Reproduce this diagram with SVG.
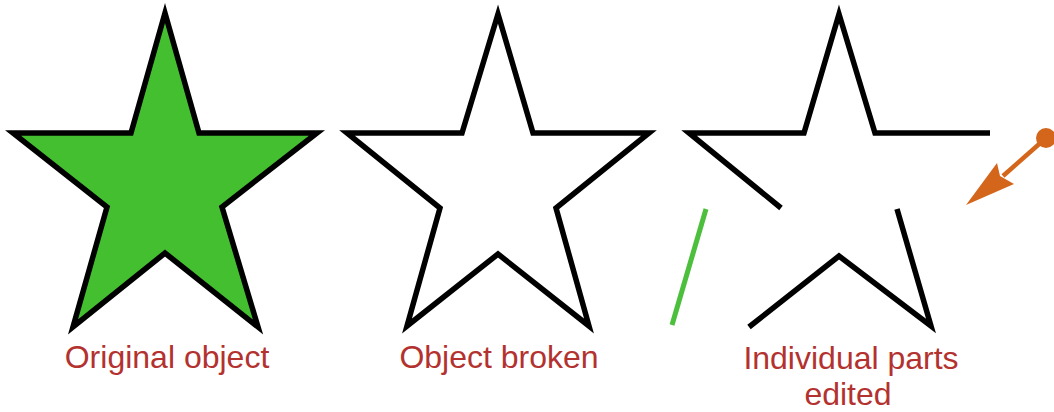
<svg xmlns="http://www.w3.org/2000/svg" width="1054" height="412" viewBox="0 0 1054 412">
<style>
.star{stroke:#000;stroke-width:5.5;stroke-linejoin:miter;stroke-linecap:butt;fill:none}
.lbl{font-family:"Liberation Sans",Arial,sans-serif;font-size:32px;fill:#b3322f;text-anchor:middle}
</style>
<rect width="1054" height="412" fill="#fff"/>
<g id="original">
<polygon class="star" style="fill:#44bf30" points="165,13 131,133 13,133 107,207 73,327 165,253 258,327 222,207 317,133 199,133"/>
<text class="lbl" x="167" y="368">Original object</text>
</g>
<g id="broken">
<polygon class="star" points="498,14 462,133 347,133 440,208 407,326 498,254 589,326 556,208 649,133 533,133"/>
<text class="lbl" x="499" y="368">Object broken</text>
</g>
<g id="edited">
<polyline class="star" points="781,208 689,133 804,133 839,14 875,133 990,133"/>
<polyline class="star" points="897,209 931,326 839,256 749,327"/>
<line x1="706" y1="209" x2="672" y2="325" stroke="#4cbf3c" stroke-width="5"/>
<text class="lbl" x="851" y="369">Individual parts</text>
<text class="lbl" x="848" y="405">edited</text>
</g>
<g id="connectors">
<circle cx="1046" cy="138" r="10" fill="#d4661c"/>
<line x1="1046" y1="138" x2="1003" y2="176" stroke="#d4661c" stroke-width="4.5"/>
<polygon points="966,205 997,163 1000,176 1014,184" fill="#d4661c"/>
</g>
</svg>
